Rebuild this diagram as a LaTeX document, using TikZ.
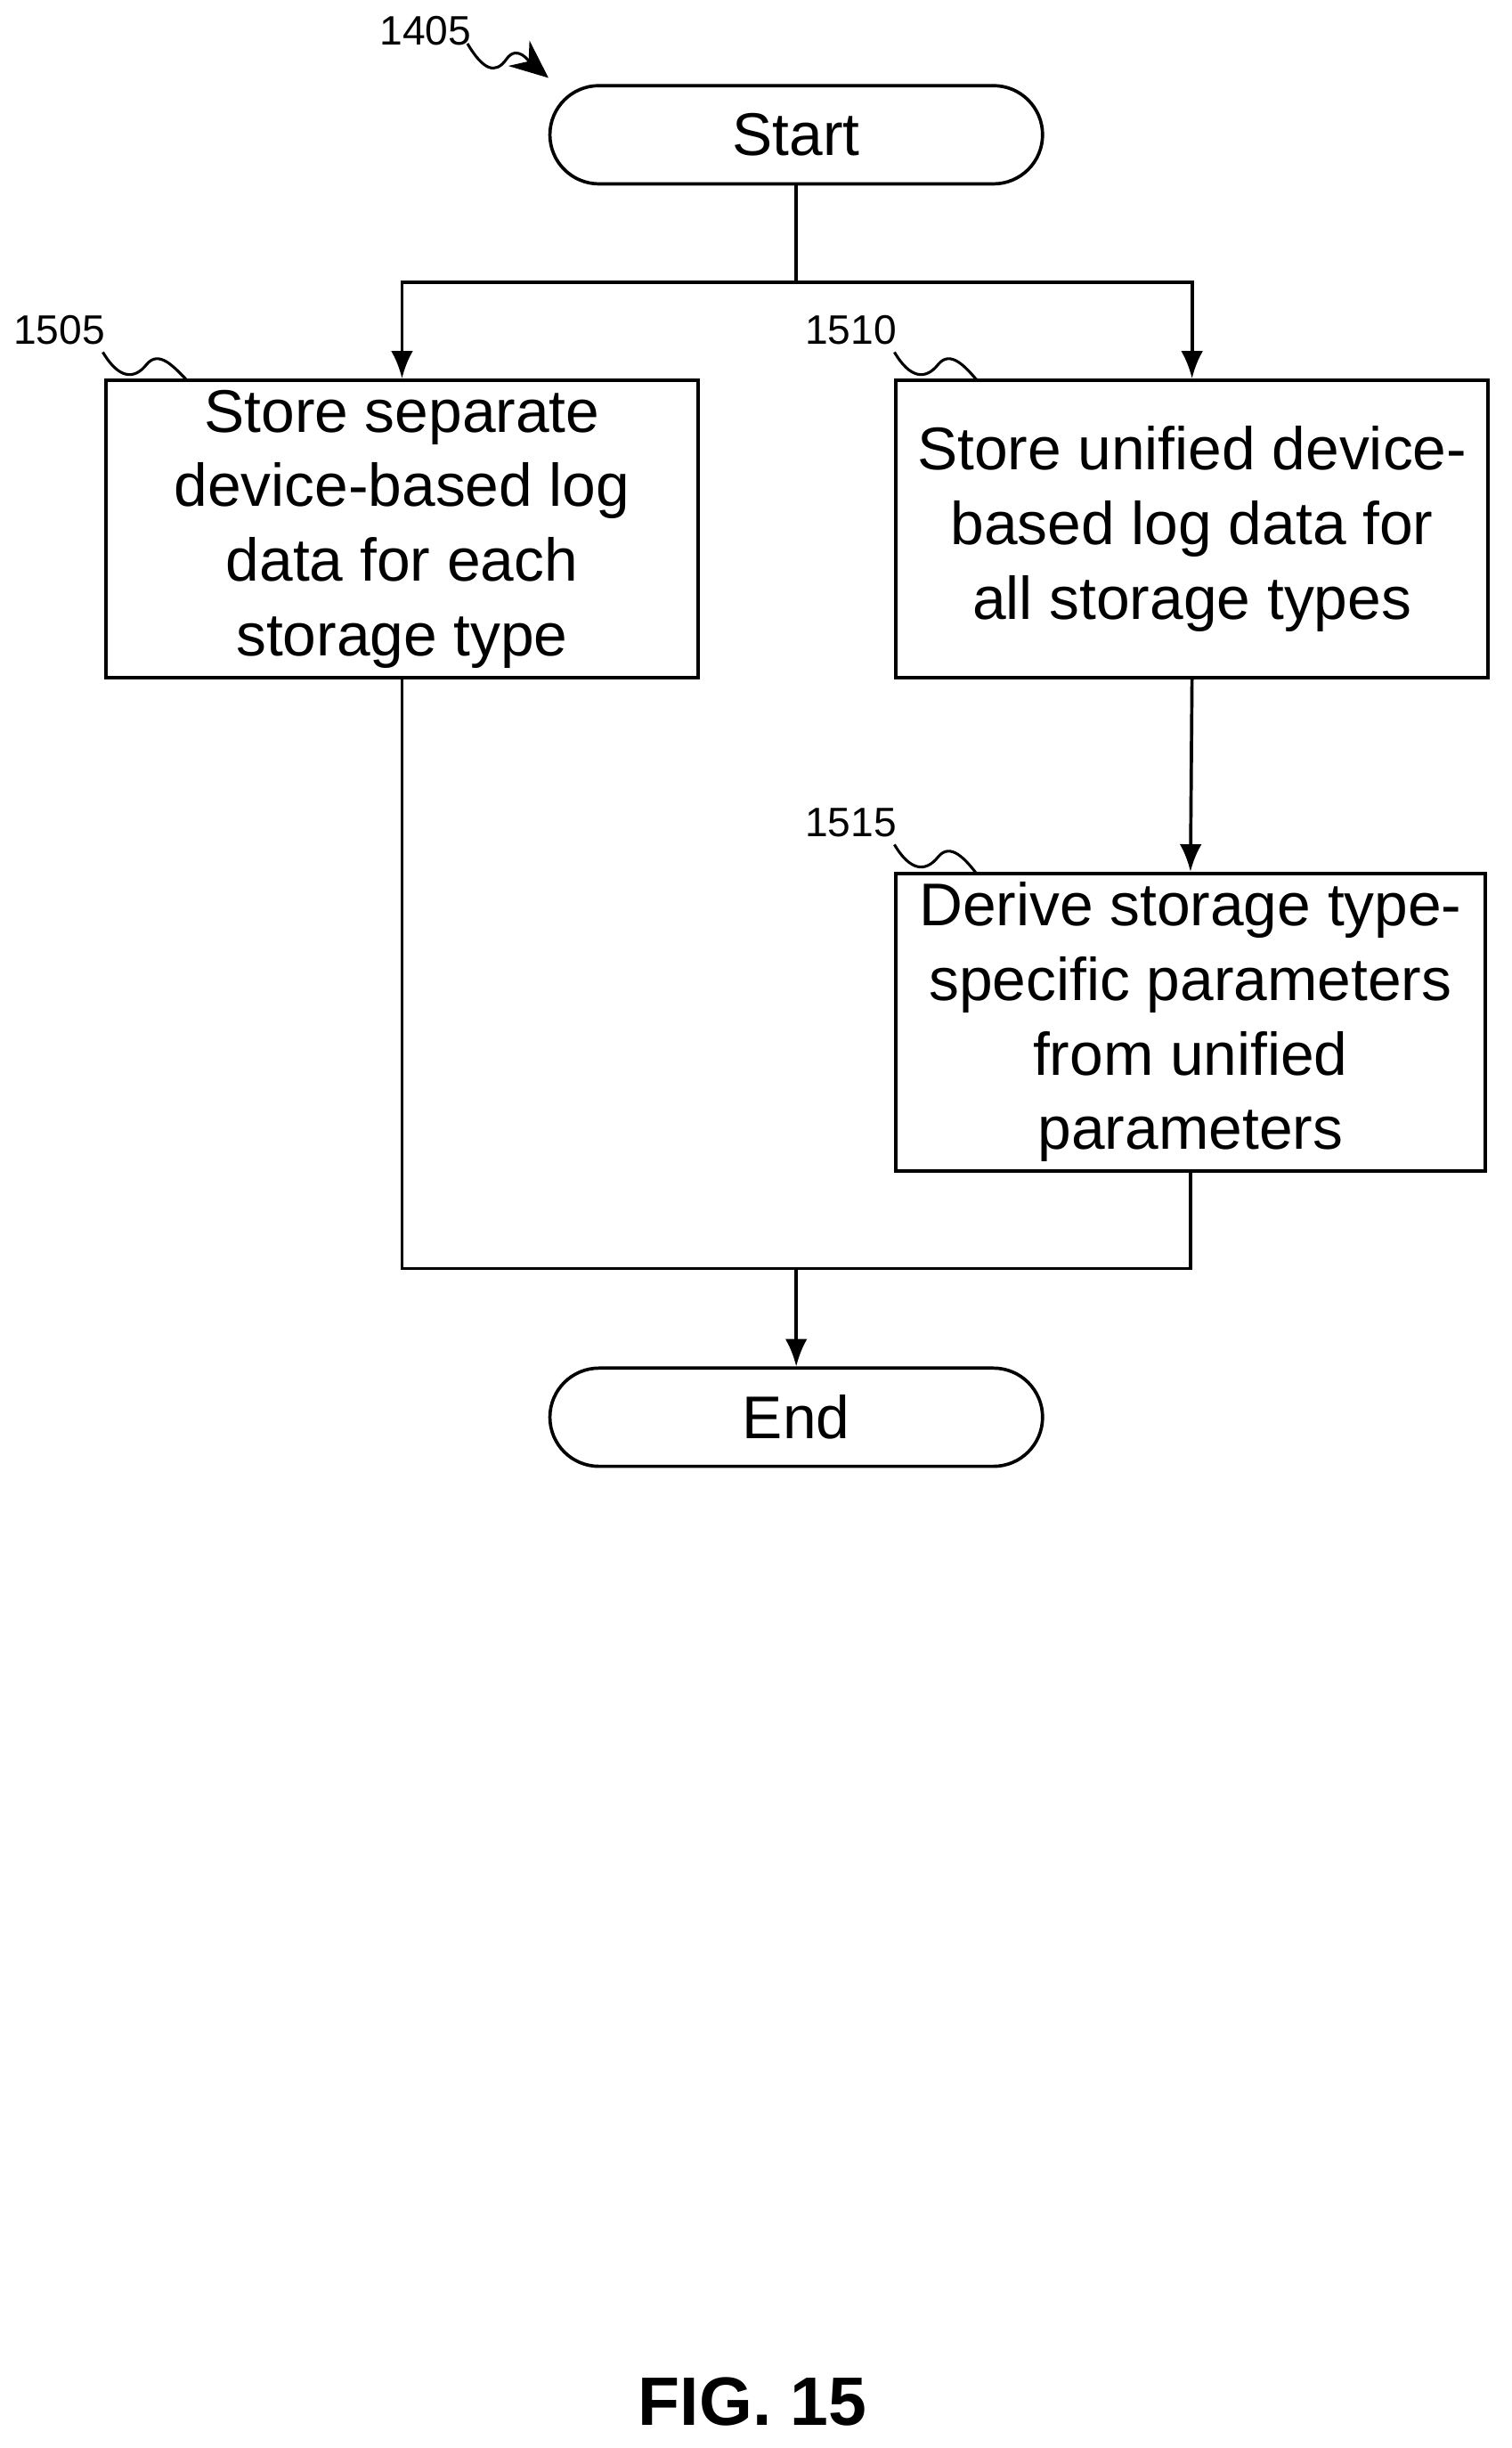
\documentclass[tikz,border=0pt]{standalone}
\usepackage{fontspec}
\setmainfont{Liberation Sans}
\usetikzlibrary{arrows.meta}
\begin{document}
\begin{tikzpicture}[x=0.01cm,y=-0.01cm,
  line width=0.6pt,
  term/.style={draw,rounded corners=0.315cm,minimum width=3.16cm,minimum height=0.63cm,font=\fontsize{11}{13.6}\selectfont},
  box/.style={draw,minimum width=3.8cm,minimum height=1.91cm,align=center,font=\fontsize{11}{13.6}\selectfont,inner sep=1pt},
  lab/.style={font=\fontsize{7.5}{9}\selectfont},
  arr/.style={-{Latex[length=5pt,width=4pt]}},
  sq/.style={line width=0.5pt}]
\useasboundingbox (0,0) rectangle (970,1571);
\node[term] (start) at (511,86.5) {Start};
\node[box] (b1) at (258,339.5) {Store separate\\device-based log\\data for each\\storage type};
\node[box] (b2) at (765,339.5) {Store unified device-\\based log data for\\all storage types};
\node[box,minimum width=3.78cm] (b3) at (764,656) {Derive storage type-\\specific parameters\\from unified\\parameters};
\node[term] (end) at (511,909.5) {End};
\coordinate (s) at (511,181);
\coordinate (sl) at (258,181);
\coordinate (sr) at (765,181);
\coordinate (j) at (511,814);
\coordinate (jl) at (258,814);
\coordinate (jr) at (764,814);
\draw (start.south) -- (s);
\draw[arr] (s) -- (sl) -- (b1.north);
\draw[arr] (s) -- (sr) -- (b2.north);
\draw[arr] (b2.south) -- (b3.north);
\draw (b1.south) -- (jl) -- (jr) -- (b3.south);
\draw[arr] (j) -- (end.north);
\node[lab] (l1405) at (273,20) {1405};
\node[lab] (l1505) at (38,212) {1505};
\node[lab] (l1510) at (546,212) {1510};
\node[lab] (l1515) at (546,528) {1515};
\draw[sq,-{Stealth[length=7pt,width=6pt]}] (300,28) .. controls (310,45) and (318,48) .. (325,38) .. controls (332,28) and (340,40) .. (352,50);
\draw[sq] (66,226) .. controls (76,243) and (86,244) .. (94,234) .. controls (102,224) and (112,236) .. (120,244);
\draw[sq] (574,226) .. controls (584,243) and (594,244) .. (602,234) .. controls (610,224) and (620,236) .. (627,244);
\draw[sq] (574,542) .. controls (584,559) and (594,560) .. (602,550) .. controls (610,540) and (620,552) .. (627,561);
\node[font=\bfseries\fontsize{12.5}{14}\selectfont] (fig) at (483,1541) {FIG. 15};
\end{tikzpicture}
\end{document}
